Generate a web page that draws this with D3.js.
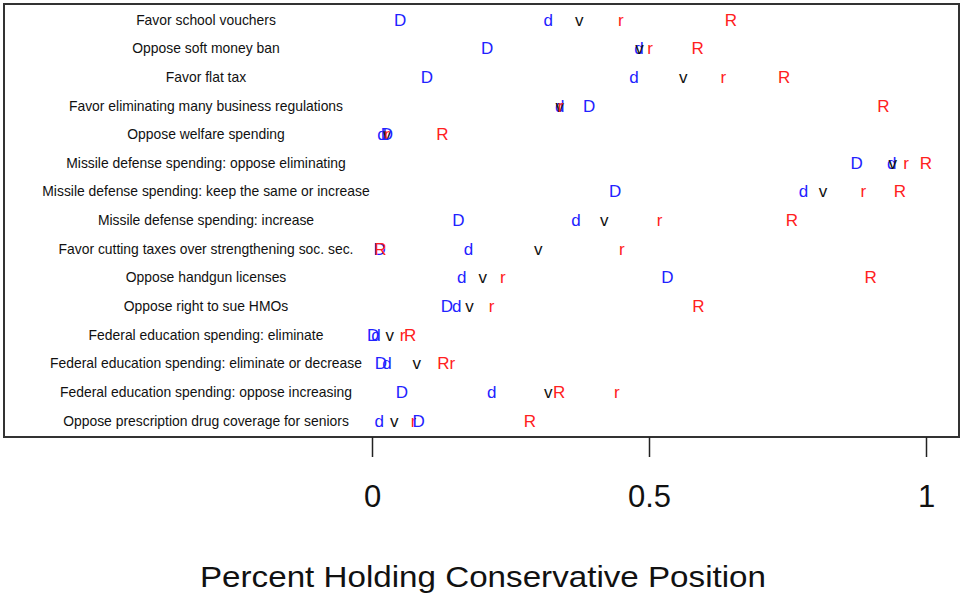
<!DOCTYPE html>
<html>
<head>
<meta charset="utf-8">
<script src="https://cdn.jsdelivr.net/npm/d3@7"></script>
<style>
  html, body { margin: 0; padding: 0; background: #fff; }
  svg { display: block; font-family: "Liberation Sans", Arial, Helvetica, sans-serif; }
</style>
</head>
<body>
<svg id="chart" width="961" height="598"></svg>
<script>
// ---- data (top row first) ----
const categories = [
  "Favor school vouchers",
  "Oppose soft money ban",
  "Favor flat tax",
  "Favor eliminating many business regulations",
  "Oppose welfare spending",
  "Missile defense spending: oppose eliminating",
  "Missile defense spending: keep the same or increase",
  "Missile defense spending: increase",
  "Favor cutting taxes over strengthening soc. sec.",
  "Oppose handgun licenses",
  "Oppose right to sue HMOs",
  "Federal education spending: eliminate",
  "Federal education spending: eliminate or decrease",
  "Federal education spending: oppose increasing",
  "Oppose prescription drug coverage for seniors"
];
const valuesD = [0.051, 0.208, 0.099, 0.392, 0.027, 0.875, 0.439, 0.156, 0.014, 0.533, 0.135, 0.002, 0.016, 0.054, 0.084];
const valuesd = [0.318, 0.482, 0.473, 0.339, 0.018, 0.938, 0.779, 0.368, 0.174, 0.162, 0.153, 0.007, 0.027, 0.216, 0.013];
const valuesv = [0.374, 0.483, 0.562, 0.339, 0.027, 0.940, 0.814, 0.419, 0.300, 0.200, 0.176, 0.032, 0.081, 0.318, 0.040];
const valuesr = [0.449, 0.502, 0.634, 0.340, 0.027, 0.964, 0.887, 0.519, 0.451, 0.236, 0.216, 0.055, 0.145, 0.442, 0.075];
const valuesR = [0.648, 0.588, 0.744, 0.923, 0.127, 1.000, 0.953, 0.758, 0.015, 0.900, 0.589, 0.069, 0.129, 0.338, 0.285];
const tickValues = [0, 0.5, 1];
const tickLabels = ["0", "0.5", "1"];
const xTitle = "Percent Holding Conservative Position";

// drawing order: d, v, r, D, R
const series = [
  { key: "d", values: valuesd, color: "#2222ff" },
  { key: "v", values: valuesv, color: "#111111" },
  { key: "r", values: valuesr, color: "#ff2020" },
  { key: "D", values: valuesD, color: "#2222ff" },
  { key: "R", values: valuesR, color: "#ff2020" }
];

const svg = d3.select("#chart");
const box = { left: 4, right: 959, top: 4, bottom: 437 };

const x = d3.scaleLinear().domain([0, 1]).range([372, 926]);
const y = d3.scalePoint().domain(categories).range([box.top, box.bottom]).padding(0.56);

// box
svg.append("rect")
  .attr("x", box.left).attr("y", box.top)
  .attr("width", box.right - box.left).attr("height", box.bottom - box.top)
  .attr("fill", "none").attr("stroke", "#333").attr("stroke-width", 2);

// category labels
svg.append("g").selectAll("text").data(categories).join("text")
  .attr("x", 206)
  .attr("y", d => y(d))
  .attr("dy", "0.33em")
  .attr("text-anchor", "middle")
  .attr("font-size", 13.9)
  .attr("fill", "#111")
  .text(d => d);

// letter marks
series.forEach(s => {
  svg.append("g").selectAll("text").data(s.values).join("text")
    .attr("x", d => x(d))
    .attr("y", (d, i) => y(categories[i]))
    .attr("dy", "0.33em")
    .attr("text-anchor", "middle")
    .attr("font-size", 17)
    .attr("fill", s.color)
    .text(s.key);
});

// axis
const axis = d3.axisBottom(x)
  .tickValues(tickValues)
  .tickFormat((d, i) => tickLabels[i])
  .tickSize(20)
  .tickPadding(28);
const gAxis = svg.append("g").attr("transform", `translate(0,${box.bottom})`).call(axis);
gAxis.select(".domain").remove();
gAxis.selectAll(".tick line").attr("stroke", "#222").attr("stroke-width", 1.5);
gAxis.selectAll(".tick text")
  .attr("font-size", 31)
  .attr("font-family", "Liberation Sans, Arial, sans-serif")
  .attr("fill", "#111");

// x title
svg.append("text")
  .attr("x", 483)
  .attr("y", 587)
  .attr("text-anchor", "middle")
  .attr("font-size", 30)
  .attr("textLength", 566)
  .attr("lengthAdjust", "spacingAndGlyphs")
  .attr("fill", "#111")
  .text(xTitle);
</script>
</body>
</html>
